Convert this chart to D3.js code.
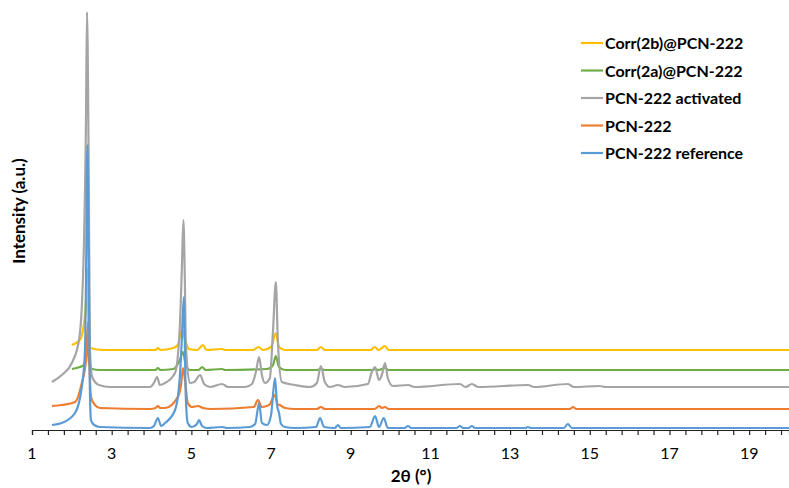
<!DOCTYPE html>
<html lang="en">
<head>
    <meta charset="utf-8">
    <title>PXRD PCN-222</title>
    <script type="text/javascript" src="https://d3js.org/d3.v7.min.js"></script>
    <style>
        html, body {
            margin: 0;
            padding: 0;
            background: #fff;
        }
        text {
            font-family: Lato, "Open Sans", Arial, sans-serif;
            fill: #000;
        }
        path.line {
            fill: none;
            stroke-width: 2.2px;
            stroke-linejoin: round;
        }
        .axis path,
        .axis line {
            stroke: #222;
            stroke-width: 1.2px;
        }
    </style>
</head>
<body>
<script type="text/javascript">

    // 2theta (deg), intensity (a.u., offset stacked as in the figure)
    var reference = [[1.5,5],[1.75,7],[2.08,17],[2.25,43],[2.33,80],[2.355,147],[2.39,285],[2.42,180],[2.45,47],[2.48,10],[2.56,5],[2.7,3],
        [3.96,2],[4.06,4],[4.16,12],[4.24,4],[4.34,7],[4.59,20],[4.71,53],[4.76,90],[4.81,133],[4.86,33],[4.91,7],[5.01,3],[5.14,6],[5.19,10],[5.27,4],[5.39,2],
        [5.77,3],[5.9,2],[6.47,3],[6.6,6],[6.7,27],[6.77,7],[6.9,5],[7.0,15],[7.1,52],[7.15,25],[7.2,17],[7.25,6],[7.35,3],[7.6,2],
        [8.13,3],[8.23,12],[8.33,3],[8.6,2],[8.68,5],[8.75,2],[9.48,3],[9.61,14],[9.71,3],[9.83,12],[9.93,2],
        [10.35,2],[10.44,4],[10.52,2],[11.65,2],[11.74,4],[11.82,2],[11.96,2],[12.04,4],[12.12,2],[13.38,2],[13.45,3],[13.52,2],
        [14.35,2],[14.45,6],[14.55,2],[20,2]];
    var pcn222 = [[1.5,24],[1.75,25],[2.08,28],[2.25,47],[2.355,70],[2.405,108],[2.43,80],[2.48,33],[2.58,25],[2.71,22],
        [3.96,21],[4.1,22],[4.16,24],[4.22,22],[4.34,22],[4.66,33],[4.74,45],[4.79,62],[4.84,50],[4.91,27],[5.01,23],[5.17,24],[5.29,22],[5.5,21],
        [6.57,23],[6.67,30],[6.77,23],[6.95,25],[7.1,35],[7.16,26],[7.22,25],[7.35,22],[7.6,21],
        [8.15,21],[8.25,23],[8.35,21],[9.6,21],[9.71,24],[9.78,22],[9.86,23],[9.95,21],[14.5,21],[14.58,23],[14.66,21],[20,21]];
    var activated = [[1.5,48],[1.75,55],[2.0,67],[2.18,90],[2.25,123],[2.3,180],[2.355,310],[2.38,418],[2.42,280],[2.455,80],[2.51,53],[2.68,45],[2.96,43],
        [3.96,43],[4.06,47],[4.14,53],[4.21,45],[4.34,47],[4.59,57],[4.71,103],[4.76,160],[4.8,210],[4.84,140],[4.86,87],[4.96,47],[5.07,48],[5.22,55],[5.32,46],[5.47,43],
        [5.77,46],[5.92,43],[6.35,43],[6.52,46],[6.62,58],[6.7,73],[6.77,55],[6.85,47],[6.97,52],[7.05,100],[7.12,148],[7.17,90],[7.27,48],[7.6,45],[7.98,43],
        [8.15,47],[8.25,64],[8.35,48],[8.48,43],[8.68,45],[8.85,43],[9.43,46],[9.53,58],[9.61,63],[9.71,50],[9.78,55],[9.86,67],[9.93,52],[10.06,44],
        [10.44,45],[10.6,43],[11.74,46],[11.88,43],[12.04,46],[12.2,43],[13.45,45],[13.6,43],[14.45,46],[14.6,43],[15.25,44],[15.4,43],[20,43]];
    var corr2a = [[2.0,61],[2.2,63],[2.3,65],[2.36,75],[2.39,90],[2.43,68],[2.51,61],[2.7,60],
        [4.1,60],[4.16,62],[4.22,60],[4.55,61],[4.71,70],[4.79,78],[4.86,65],[4.96,60],[5.18,60],[5.27,63],[5.36,60],[5.77,61],[5.85,60],
        [6.9,61],[7.05,65],[7.12,74],[7.2,63],[7.35,60],[8.15,60],[8.25,61],[8.35,60],[9.55,60],[9.61,61],[9.7,60],[9.86,62],[9.95,60],[20,60]];
    var corr2b = [[2.0,85],[2.2,90],[2.3,105],[2.355,130],[2.38,162],[2.43,83],[2.56,81],[2.8,80],
        [4.1,80],[4.16,82],[4.22,80],[4.55,82],[4.66,85],[4.76,100],[4.86,88],[4.94,81],[5.15,80],[5.29,85],[5.38,80],[5.77,81],[5.85,80],
        [6.55,80],[6.68,83],[6.8,80],[7.0,83],[7.12,97],[7.2,83],[7.35,80],[8.15,80],[8.25,83],[8.35,80],[9.5,80],[9.6,83],[9.7,80],[9.86,84],[9.95,80],[20,80]];

    var seriesNames = ["Corr(2b)@PCN-222", "Corr(2a)@PCN-222", "PCN-222 activated", "PCN-222", "PCN-222 reference"];
    var seriesData = [corr2b, corr2a, activated, pcn222, reference];
    var colors = ["#FFC000", "#70AD47", "#A5A5A5", "#ED7D31", "#5B9BD5"];
    var xTickLabels = [1, 3, 5, 7, 9, 11, 13, 15, 17, 19];

    var width = 789, height = 488;

    var x = d3.scaleLinear().domain([1, 20]).range([32, 789]);
    var y = d3.scaleLinear().domain([0, 420]).range([430, 10]);

    var svg = d3.select("body").append("svg")
        .attr("width", width).attr("height", height);

    var line = d3.line()
        .x(function(d){ return x(d[0]); })
        .y(function(d){ return y(d[1]); })
        .curve(d3.curveMonotoneX);

    svg.selectAll("path.line")
        .data(seriesData)
        .enter().append("path")
        .attr("class", "line")
        .attr("stroke", function(d, i){ return colors[i]; })
        .attr("d", line);

    // x axis: minor ticks every 0.4, labels on odd numbers
    var tickVals = d3.range(0, 48).map(function(i){ return 1 + i * 0.4; });
    var xAxis = d3.axisBottom(x)
        .tickValues(tickVals)
        .tickSizeOuter(0)
        .tickSize(5)
        .tickFormat("");
    svg.append("g")
        .attr("class", "axis x")
        .attr("transform", "translate(0," + y(0) + ")")
        .call(xAxis);

    svg.append("g")
        .attr("class", "axis labels")
        .selectAll("text")
        .data(xTickLabels)
        .enter().append("text")
        .attr("x", function(d){ return x(d); })
        .attr("y", 459)
        .attr("text-anchor", "middle")
        .style("font-size", "16px")
        .text(function(d){ return d; });

    svg.append("text")
        .attr("x", 411).attr("y", 482)
        .attr("text-anchor", "middle")
        .style("font-size", "17px")
        .style("font-weight", "bold")
        .text("2θ (°)");

    svg.append("text")
        .attr("transform", "translate(25,211) rotate(-90)")
        .attr("text-anchor", "middle")
        .style("font-size", "17px")
        .style("font-weight", "bold")
        .text("Intensity (a.u.)");

    // legend
    var legend = svg.append("g").attr("class", "legend");
    var rows = legend.selectAll("g")
        .data(seriesNames)
        .enter().append("g")
        .attr("transform", function(d, i){ return "translate(581," + (43 + i * 27.5) + ")"; });
    rows.append("line")
        .attr("x1", 0).attr("x2", 22)
        .attr("stroke", function(d, i){ return colors[i]; })
        .attr("stroke-width", 2.2);
    rows.append("text")
        .attr("x", 24).attr("y", 6)
        .style("font-size", "16px")
        .style("font-weight", "bold")
        .text(function(d){ return d; });

</script>
</body>
</html>
